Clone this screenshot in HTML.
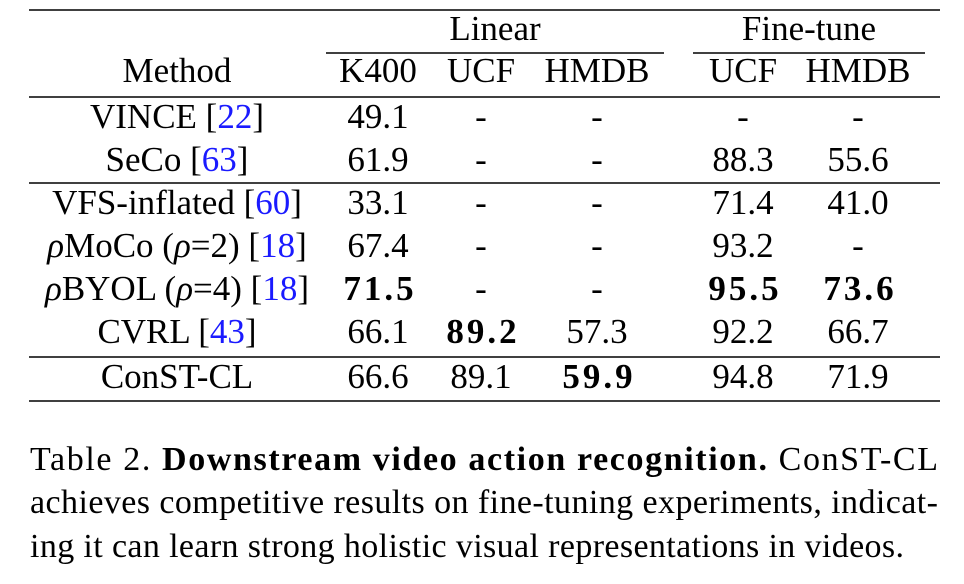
<!DOCTYPE html>
<html><head><meta charset="utf-8"><style>
html,body{margin:0;padding:0;background:#fff;}
svg{display:block;}
text{font-family:"Liberation Serif",serif;fill:#000;}
.c{text-anchor:middle;font-size:35px;}
.b{font-weight:bold;letter-spacing:3px;}
.r{fill:#1a1aff;}
</style></head><body>
<svg width="964" height="584" xmlns="http://www.w3.org/2000/svg">
<g stroke="#000" stroke-width="1.6">
<line x1="29" y1="10" x2="940" y2="10"/>
<line x1="326" y1="53" x2="664" y2="53"/>
<line x1="693" y1="53" x2="925" y2="53"/>
<line x1="29" y1="97" x2="940" y2="97"/>
<line x1="29" y1="183" x2="940" y2="183"/>
<line x1="29" y1="357" x2="940" y2="357"/>
<line x1="29" y1="401" x2="940" y2="401"/>
</g>
<text class="c" x="495" y="40">Linear</text>
<text class="c" x="809" y="40">Fine-tune</text>
<text class="c" x="177" y="82">Method</text>
<text class="c" x="378" y="82">K400</text>
<text class="c" x="481" y="82">UCF</text>
<text class="c" x="597" y="82">HMDB</text>
<text class="c" x="743" y="82">UCF</text>
<text class="c" x="858" y="82">HMDB</text>

<text class="c" x="177" y="128">VINCE [<tspan class="r">22</tspan>]</text>
<text class="c" x="378" y="128">49.1</text><text class="c" x="481" y="128">-</text><text class="c" x="597" y="128">-</text><text class="c" x="743" y="128">-</text><text class="c" x="858" y="128">-</text>

<text class="c" x="177" y="171">SeCo [<tspan class="r">63</tspan>]</text>
<text class="c" x="378" y="171">61.9</text><text class="c" x="481" y="171">-</text><text class="c" x="597" y="171">-</text><text class="c" x="743" y="171">88.3</text><text class="c" x="858" y="171">55.6</text>

<text class="c" x="177" y="214">VFS-inflated [<tspan class="r">60</tspan>]</text>
<text class="c" x="378" y="214">33.1</text><text class="c" x="481" y="214">-</text><text class="c" x="597" y="214">-</text><text class="c" x="743" y="214">71.4</text><text class="c" x="858" y="214">41.0</text>

<text class="c" x="177" y="257"><tspan font-style="italic">ρ</tspan>MoCo (<tspan font-style="italic">ρ</tspan>=2) [<tspan class="r">18</tspan>]</text>
<text class="c" x="378" y="257">67.4</text><text class="c" x="481" y="257">-</text><text class="c" x="597" y="257">-</text><text class="c" x="743" y="257">93.2</text><text class="c" x="858" y="257">-</text>

<text class="c" x="177" y="300"><tspan font-style="italic">ρ</tspan>BYOL (<tspan font-style="italic">ρ</tspan>=4) [<tspan class="r">18</tspan>]</text>
<text class="c b" x="380" y="300">71.5</text><text class="c" x="481" y="300">-</text><text class="c" x="597" y="300">-</text><text class="c b" x="745" y="300">95.5</text><text class="c b" x="860" y="300">73.6</text>

<text class="c" x="177" y="343">CVRL [<tspan class="r">43</tspan>]</text>
<text class="c" x="378" y="343">66.1</text><text class="c b" x="483" y="343">89.2</text><text class="c" x="597" y="343">57.3</text><text class="c" x="743" y="343">92.2</text><text class="c" x="858" y="343">66.7</text>

<text class="c" x="177" y="388">ConST-CL</text>
<text class="c" x="378" y="388">66.6</text><text class="c" x="481" y="388">89.1</text><text class="c b" x="599" y="388">59.9</text><text class="c" x="743" y="388">94.8</text><text class="c" x="858" y="388">71.9</text>

<text x="30" y="470" font-size="34" textLength="908" lengthAdjust="spacing">Table 2.  <tspan font-weight="bold">Downstream video action recognition.</tspan>  ConST-CL</text>
<text x="30" y="513" font-size="34" textLength="908" lengthAdjust="spacing">achieves competitive results on fine-tuning experiments, indicat-</text>
<text x="30" y="557" font-size="34" textLength="874" lengthAdjust="spacing">ing it can learn strong holistic visual representations in videos.</text>
</svg>
</body></html>
